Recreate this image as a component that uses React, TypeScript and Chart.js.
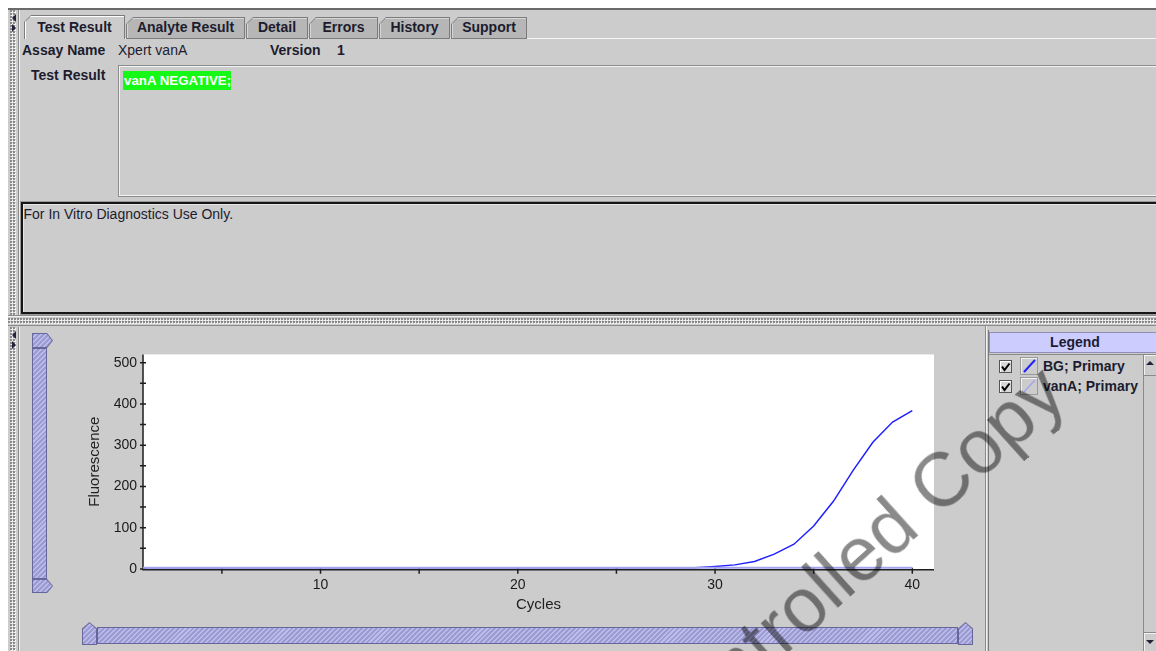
import React, { useEffect, useRef } from "react";
import { Chart, registerables } from "chart.js";

Chart.register(...registerables);

// ---------------- data ----------------
const CYCLES = [
  1, 2, 3, 4, 5, 6, 7, 8, 9, 10, 11, 12, 13, 14, 15, 16, 17, 18, 19, 20,
  21, 22, 23, 24, 25, 26, 27, 28, 29, 30, 31, 32, 33, 34, 35, 36, 37, 38, 39, 40,
];
const BG_FLUORESCENCE = [
  3, 3, 3, 3, 3, 3, 3, 3, 3, 3, 3, 3, 3, 3, 3, 3, 3, 3, 3, 3,
  3, 3, 3, 3, 3, 3, 3, 3, 3, 6, 10, 18, 36, 60, 104, 164, 239, 307, 356, 384,
];
const VANA_FLUORESCENCE = [
  3, 3, 3, 3, 3, 3, 3, 3, 3, 3, 3, 3, 3, 3, 3, 3, 3, 3, 3, 3,
  3, 3, 3, 3, 3, 3, 3, 3, 3, 3, 3, 3, 3, 3, 3, 3, 3, 3, 3, 3,
];
const SERIES_LABELS = ["BG; Primary", "vanA; Primary"];
const X_TICKS = [10, 20, 30, 40];
const X_MINOR_TICKS = [5, 15, 25, 35];
const Y_TICKS = [0, 100, 200, 300, 400, 500];
const Y_MINOR_TICKS = [50, 150, 250, 350, 450];
const TAB_LABELS = ["Test Result", "Analyte Result", "Detail", "Errors", "History", "Support"];

// ---------------- styles ----------------
const FONT = '"Liberation Sans", Arial, Helvetica, sans-serif';
const TEXT = "#1c1c2e";
const PANEL = "#cccccc";
const BG_COLOR = "#2020ff";
const VANA_COLOR = "#a4a4ec";
const HATCH =
  "repeating-linear-gradient(135deg, #9c9cd2 0px, #9c9cd2 2px, #bcbcec 2px, #bcbcec 3.5px)";

const plotFrame = {
  id: "plotFrame",
  beforeDraw(chart: any) {
    const { ctx, chartArea: a } = chart;
    ctx.save();
    ctx.fillStyle = "#ffffff";
    ctx.fillRect(a.left, a.top, a.right - a.left, a.bottom - a.top);
    ctx.restore();
  },
  beforeDatasetsDraw(chart: any) {
    const { ctx, chartArea: a, scales } = chart;
    const xs = scales.x;
    const ys = scales.y;
    const yAxis = a.bottom + 0.75;
    ctx.save();
    ctx.strokeStyle = "#1e1e1e";
    ctx.lineWidth = 1.5;
    ctx.beginPath();
    ctx.moveTo(a.left, a.top);
    ctx.lineTo(a.left, yAxis + 0.75);
    ctx.moveTo(a.left, yAxis);
    ctx.lineTo(a.right, yAxis);
    for (const v of [...Y_TICKS, ...Y_MINOR_TICKS]) {
      const p = ys.getPixelForValue(v);
      ctx.moveTo(a.left - 3, p);
      ctx.lineTo(a.left + 3, p);
    }
    for (const v of [...X_TICKS, ...X_MINOR_TICKS]) {
      const p = xs.getPixelForValue(v);
      ctx.moveTo(p, yAxis - 2);
      ctx.lineTo(p, yAxis + 4);
    }
    ctx.stroke();
    ctx.restore();
  },
};

function FluorescenceChart() {
  const ref = useRef<HTMLCanvasElement>(null);
  useEffect(() => {
    const canvas = ref.current;
    if (!canvas) return;
    const chart = new Chart(canvas, {
      type: "line",
      data: {
        datasets: [
          {
            label: SERIES_LABELS[1],
            data: CYCLES.map((c, i) => ({ x: c, y: VANA_FLUORESCENCE[i] })),
            borderColor: VANA_COLOR,
            borderWidth: 2,
            pointRadius: 0,
            tension: 0,
            fill: false,
            order: 0,
          },
          {
            label: SERIES_LABELS[0],
            data: CYCLES.map((c, i) => ({ x: c, y: BG_FLUORESCENCE[i] })),
            borderColor: BG_COLOR,
            borderWidth: 1.5,
            pointRadius: 0,
            tension: 0,
            fill: false,
            order: 1,
          },
        ],
      },
      options: {
        responsive: false,
        animation: false,
        devicePixelRatio: 1,
        events: [],
        layout: { padding: { top: 13, right: 26, left: 0, bottom: 0 } },
        plugins: { legend: { display: false }, tooltip: { enabled: false } },
        scales: {
          x: {
            type: "linear",
            min: 1,
            max: 41.1,
            afterBuildTicks: (s: any) => {
              s.ticks = X_TICKS.map((v) => ({ value: v }));
            },
            afterFit: (s: any) => {
              s.height = 51;
            },
            grid: { display: false, drawTicks: false },
            border: { display: false },
            ticks: {
              padding: 8,
              color: "#1a1a1a",
              font: { family: FONT, size: 14 },
              autoSkip: false,
              maxRotation: 0,
              callback: (v: any) => String(v),
            },
            title: {
              display: true,
              text: "Cycles",
              color: "#222222",
              font: { family: FONT, size: 15 },
              padding: { top: 0, bottom: 6 },
            },
          },
          y: {
            type: "linear",
            min: 0,
            max: 520,
            afterBuildTicks: (s: any) => {
              s.ticks = Y_TICKS.map((v) => ({ value: v }));
            },
            afterFit: (s: any) => {
              s.width = 63;
            },
            grid: { display: false, drawTicks: false },
            border: { display: false },
            ticks: {
              padding: 6,
              color: "#1a1a1a",
              font: { family: FONT, size: 14 },
              callback: (v: any) => String(v),
            },
            title: {
              display: true,
              text: "Fluorescence",
              color: "#222222",
              font: { family: FONT, size: 15 },
              padding: { top: 6, bottom: 0 },
            },
          },
        },
      } as any,
      plugins: [plotFrame],
    });
    return () => chart.destroy();
  }, []);
  return (
    <canvas
      ref={ref}
      width={880}
      height={280}
      style={{ position: "absolute", left: 80, top: 340, width: 880, height: 280, zIndex: 1 }}
    />
  );
}

// ---------------- UI helpers ----------------
function Txt(props: { x: number; cy: number; bold?: boolean; size?: number; color?: string; children: any }) {
  const size = props.size ?? 14;
  return (
    <div
      style={{
        position: "absolute",
        left: props.x,
        top: props.cy - 9,
        height: 18,
        lineHeight: "18px",
        fontFamily: FONT,
        fontSize: size,
        fontWeight: props.bold ? "bold" : "normal",
        color: props.color ?? TEXT,
        whiteSpace: "nowrap",
      }}
    >
      {props.children}
    </div>
  );
}

function Tab(props: { x: number; w: number; label: string; selected: boolean }) {
  const top = props.selected ? 15 : 17;
  const h = 39 - top;
  return (
    <div
      style={{
        position: "absolute",
        left: props.x,
        top,
        width: props.w,
        height: h,
        background: "#7c7c7c",
        clipPath: "polygon(0 7px, 7px 0, 100% 0, 100% 100%, 0 100%)",
      }}
    >
      <div
        style={{
          position: "absolute",
          left: 1,
          top: 1,
          right: 1,
          bottom: props.selected ? 0 : 1,
          background: props.selected ? PANEL : "#b6b6b6",
          boxShadow: props.selected ? "inset 1px 1px 0 #ffffff" : "inset 1px 1px 0 #d6d6d6",
          clipPath: "polygon(0 6px, 6px 0, 100% 0, 100% 100%, 0 100%)",
        }}
      />
      <div
        style={{
          position: "absolute",
          left: 0,
          right: 0,
          top: 27 - top - 9,
          height: 18,
          lineHeight: "18px",
          textAlign: "center",
          fontFamily: FONT,
          fontSize: 14,
          fontWeight: "bold",
          color: TEXT,
          whiteSpace: "nowrap",
        }}
      >
        {props.label}
      </div>
    </div>
  );
}

function Hatched(props: { x: number; y: number; w: number; h: number; clip?: string }) {
  return (
    <div
      style={{
        position: "absolute",
        left: props.x,
        top: props.y,
        width: props.w,
        height: props.h,
        background: "#66669a",
        clipPath: props.clip,
      }}
    >
      <div style={{ position: "absolute", inset: 1, background: HATCH, clipPath: props.clip }} />
    </div>
  );
}

function Arrow(props: { x: number; y: number; dir: "left" | "right" | "up" | "down"; size?: number; color?: string }) {
  const s = props.size ?? 4;
  const c = props.color ?? "#22223a";
  const st: any = { position: "absolute", left: props.x, top: props.y, width: 0, height: 0 };
  if (props.dir === "left" || props.dir === "right") {
    st.borderTop = `${s}px solid transparent`;
    st.borderBottom = `${s}px solid transparent`;
    st[props.dir === "left" ? "borderRight" : "borderLeft"] = `${s}px solid ${c}`;
  } else {
    st.borderLeft = `${s}px solid transparent`;
    st.borderRight = `${s}px solid transparent`;
    st[props.dir === "up" ? "borderBottom" : "borderTop"] = `${s}px solid ${c}`;
  }
  return <div style={st} />;
}

function VSplitter(props: { top: number; height: number }) {
  return (
    <>
      <div
        style={{
          position: "absolute",
          left: 10,
          top: props.top,
          width: 6,
          height: props.height,
          backgroundImage:
            "radial-gradient(circle at 1px 1px, #8a8a8a 0.8px, transparent 1px), radial-gradient(circle at 1px 1px, #f4f4f4 0.8px, transparent 1px)",
          backgroundSize: "3px 3px, 3px 3px",
          backgroundPosition: "0 0, 1px 1px",
        }}
      />
      <div style={{ position: "absolute", left: 18, top: props.top, width: 1, height: props.height, background: "#8c8c8c" }} />
      <div style={{ position: "absolute", left: 19, top: props.top, width: 1, height: props.height, background: "#f0f0f0" }} />
      <Arrow x={12} y={props.top + 4} dir="left" />
      <Arrow x={12} y={props.top + 14} dir="right" />
    </>
  );
}

function CheckBox(props: { x: number; y: number }) {
  return (
    <div
      style={{
        position: "absolute",
        left: props.x,
        top: props.y,
        width: 13,
        height: 13,
        boxSizing: "border-box",
        border: "1px solid #555",
        background: "#d8d8d8",
        boxShadow: "inset 1px 1px 0 #ffffff",
      }}
    >
      <svg width={11} height={11} style={{ position: "absolute", left: 0, top: 0 }}>
        <path d="M2 5.5 L4.5 9 L9.5 2.5" stroke="#000" strokeWidth={2} fill="none" />
      </svg>
    </div>
  );
}

function LineIcon(props: { x: number; y: number; color: string; width: number }) {
  return (
    <div
      style={{
        position: "absolute",
        left: props.x,
        top: props.y,
        width: 18,
        height: 18,
        boxSizing: "border-box",
        border: "1px solid #9a9a9a",
        boxShadow: "inset 1px 1px 0 #f2f2f2",
        background: PANEL,
      }}
    >
      <svg width={16} height={16} style={{ position: "absolute", left: 0, top: 0 }}>
        <line x1={3} y1={14} x2={14} y2={2} stroke={props.color} strokeWidth={props.width} />
      </svg>
    </div>
  );
}

// ---------------- App ----------------
export default function App() {
  const tabGeom = [
    { x: 24, w: 101 },
    { x: 126, w: 119 },
    { x: 246, w: 62 },
    { x: 309, w: 69 },
    { x: 379, w: 71 },
    { x: 451, w: 76 },
  ];
  const legendColors = [
    { color: BG_COLOR, width: 2 },
    { color: VANA_COLOR, width: 1.5 },
  ];
  return (
    <div
      style={{
        position: "fixed",
        left: 0,
        top: 0,
        width: 1156,
        height: 651,
        overflow: "hidden",
        background: "#ffffff",
        fontFamily: FONT,
      }}
    >
      {/* panel background */}
      <div style={{ position: "absolute", left: 8, top: 8, right: 0, bottom: 0, background: PANEL }} />
      <div style={{ position: "absolute", left: 8, top: 8, right: 0, height: 2, background: "#6a6a6a" }} />

      {/* left splitters */}
      <VSplitter top={10} height={306} />
      <VSplitter top={327} height={324} />

      {/* horizontal splitter */}
      <div style={{ position: "absolute", left: 8, top: 315, right: 0, height: 1, background: "#8a8a8a" }} />
      <div style={{ position: "absolute", left: 8, top: 316, right: 0, height: 1, background: "#f2f2f2" }} />
      <div
        style={{
          position: "absolute",
          left: 8,
          top: 318,
          right: 0,
          height: 6,
          backgroundImage:
            "radial-gradient(circle at 1px 1px, #8a8a8a 0.8px, transparent 1px), radial-gradient(circle at 1px 1px, #f4f4f4 0.8px, transparent 1px)",
          backgroundSize: "3px 3px, 3px 3px",
          backgroundPosition: "0 0, 1px 1px",
        }}
      />
      <div style={{ position: "absolute", left: 8, top: 325, right: 0, height: 1, background: "#8a8a8a" }} />

      {/* tabs */}
      <div style={{ position: "absolute", left: 124, top: 38, right: 0, height: 1, background: "#f6f6f6" }} />
      {TAB_LABELS.map((t, i) => (
        <Tab key={t} x={tabGeom[i].x} w={tabGeom[i].w} label={t} selected={i === 0} />
      ))}

      {/* assay info */}
      <Txt x={22} cy={50} bold>Assay Name</Txt>
      <Txt x={118} cy={50}>Xpert vanA</Txt>
      <Txt x={270} cy={50} bold>Version</Txt>
      <Txt x={337} cy={50} bold>1</Txt>
      <Txt x={31} cy={75} bold>Test Result</Txt>

      {/* test result box */}
      <div
        style={{
          position: "absolute",
          left: 118,
          top: 65,
          width: 1100,
          height: 132,
          boxSizing: "border-box",
          border: "1px solid #8c8c8c",
          boxShadow: "inset 1px 1px 0 #f4f4f4, inset -1px -1px 0 #f4f4f4",
        }}
      />
      <div
        style={{
          position: "absolute",
          left: 123,
          top: 71,
          width: 108,
          height: 19,
          background: "#16f816",
          color: "#ffffff",
          fontFamily: FONT,
          fontWeight: "bold",
          fontSize: 13.3,
          lineHeight: "19px",
          paddingLeft: 1,
          boxSizing: "border-box",
          whiteSpace: "nowrap",
          overflow: "hidden",
        }}
      >
        vanA NEGATIVE;
      </div>

      {/* disclaimer box */}
      <div
        style={{
          position: "absolute",
          left: 21,
          top: 202,
          width: 1200,
          height: 112,
          boxSizing: "border-box",
          border: "2px solid #161616",
          boxShadow: "0 0 0 1px #9a9a9a, inset 1px 1px 0 #e6e6e6",
        }}
      />
      <Txt x={23.5} cy={214}>For In Vitro Diagnostics Use Only.</Txt>

      {/* vertical slider */}
      <Hatched x={32} y={333} w={21} h={15} clip="polygon(0 0, 72% 0, 100% 50%, 72% 100%, 0 100%)" />
      <Hatched x={32} y={348} w={15} h={231} />
      <Hatched x={32} y={579} w={21} h={14} clip="polygon(0 0, 72% 0, 100% 50%, 72% 100%, 0 100%)" />

      {/* horizontal slider */}
      <Hatched x={82} y={622} w={15} h={23} clip="polygon(0 28%, 50% 0, 100% 28%, 100% 100%, 0 100%)" />
      <Hatched x={97} y={627} w={861} h={17} />
      <Hatched x={958} y={622} w={15} h={23} clip="polygon(0 28%, 50% 0, 100% 28%, 100% 100%, 0 100%)" />

      {/* chart */}
      <FluorescenceChart />

      {/* legend panel */}
      <div style={{ position: "absolute", left: 985, top: 326, width: 1, bottom: 0, background: "#8a8a8a" }} />
      <div style={{ position: "absolute", left: 986, top: 326, width: 1, bottom: 0, background: "#f2f2f2" }} />
      <div style={{ position: "absolute", left: 988, top: 330, width: 1, bottom: 0, background: "#7a7a7a" }} />
      <div
        style={{
          position: "absolute",
          left: 989,
          top: 332,
          width: 172,
          height: 21,
          boxSizing: "border-box",
          background: "#ccccff",
          border: "1px solid #8e8eb8",
          textAlign: "center",
          fontFamily: FONT,
          fontWeight: "bold",
          fontSize: 14,
          lineHeight: "19px",
          color: TEXT,
        }}
      >
        Legend
      </div>
      <div style={{ position: "absolute", left: 989, top: 354, width: 170, height: 1, background: "#8a8a8a" }} />
      {/* scrollbar */}
      <div
        style={{
          position: "absolute",
          left: 1143,
          top: 355,
          width: 16,
          bottom: 0,
          boxSizing: "border-box",
          borderLeft: "1px solid #8a8a8a",
          background: PANEL,
        }}
      >
        <div style={{ position: "absolute", left: 0, top: 0, right: 0, height: 20, borderBottom: "1px solid #8a8a8a", boxShadow: "inset 1px 1px 0 #f2f2f2" }} />
        <div style={{ position: "absolute", left: 0, top: 277, right: 0, height: 20, borderTop: "1px solid #8a8a8a", boxShadow: "inset 1px 1px 0 #f2f2f2" }} />
      </div>
      <Arrow x={1146} y={361} dir="up" />
      <Arrow x={1146} y={640} dir="down" />

      {SERIES_LABELS.map((label, i) => (
        <React.Fragment key={label}>
          <CheckBox x={999} y={360 + i * 20} />
          <LineIcon x={1020} y={357 + i * 20} color={legendColors[i].color} width={legendColors[i].width} />
          <Txt x={1043} cy={366 + i * 20} bold>{label}</Txt>
        </React.Fragment>
      ))}

      {/* watermark */}
      <div
        style={{
          position: "absolute",
          left: 562,
          top: 770,
          transformOrigin: "0 0",
          transform: "rotate(-42deg)",
          fontFamily: FONT,
          fontSize: 76,
          lineHeight: 1,
          color: "rgba(0,0,0,0.46)",
          whiteSpace: "nowrap",
          pointerEvents: "none",
          zIndex: 10,
        }}
      >
        Uncontrolled Copy
      </div>
    </div>
  );
}
